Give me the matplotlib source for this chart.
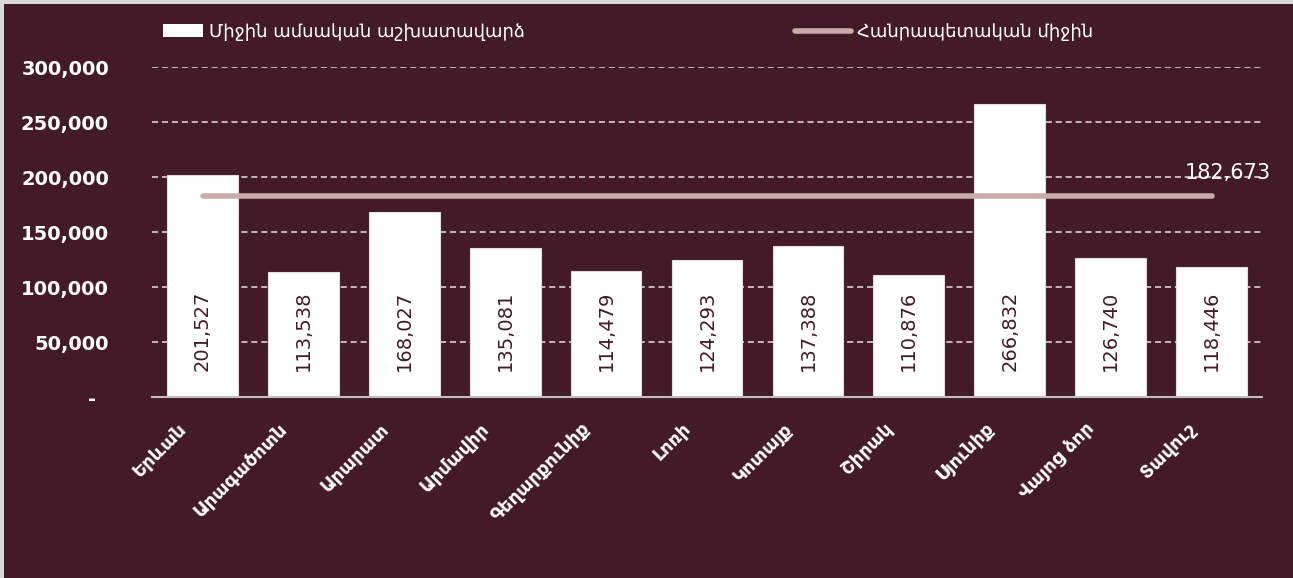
import numpy as np
import matplotlib
matplotlib.use("Agg")
import matplotlib.pyplot as plt
from matplotlib.ticker import FuncFormatter
from matplotlib.patches import Rectangle, Patch
from matplotlib.lines import Line2D
from matplotlib.transforms import ScaledTranslation

regions = ["Երևան", "Արագածոտն", "Արարատ", "Արմավիր", "Գեղարքունիք", "Լոռի",
           "Կոտայք", "Շիրակ", "Սյունիք", "Վայոց ձոր", "Տավուշ"]
wages = [201527, 113538, 168027, 135081, 114479, 124293,
         137388, 110876, 266832, 126740, 118446]
national_avg = 182673
yticks = [0, 50000, 100000, 150000, 200000, 250000, 300000]

bg = "#431a28"
line_col = "#c9aca7"

fig = plt.figure(figsize=(12.93, 5.78), dpi=100)
fig.patch.set_facecolor("#d9d9d9")
# dark panel inside a thin light border
fig.patches.append(Rectangle((0.003, 0.0), 0.997, 0.993, transform=fig.transFigure,
                             facecolor=bg, edgecolor="none", zorder=-10))

ax = fig.add_axes([0.1176, 0.313, 0.8584, 0.571])
ax.set_facecolor(bg)

x = np.arange(len(regions))
ax.bar(x, wages, width=0.7, color="white", edgecolor="#e0dcdc",
       linewidth=0.8, zorder=3)
ax.plot([x[0], x[-1]], [national_avg, national_avg], color=line_col, lw=4,
        solid_capstyle="round", zorder=4)

for xi, v in zip(x, wages):
    ax.text(xi, 24000, f"{v:,}", rotation=90, ha="center", va="bottom",
            color=bg, fontsize=14, zorder=5)

ax.text(x[-1] - 0.27, national_avg + 12000, f"{national_avg:,}", color="white",
        fontsize=15, ha="left", va="bottom", zorder=5)

ax.set_xlim(-0.5, len(regions) - 0.5)
ax.set_ylim(0, 300000)
ax.set_yticks(yticks)
ax.yaxis.set_major_formatter(FuncFormatter(lambda v, p: "-  " if v == 0 else f"{int(v):,}"))
ax.grid(axis="y", color="#e6e1e1", linestyle=(0, (4, 2.5)), linewidth=1.1, zorder=1)
ax.set_axisbelow(True)

for s in ["top", "right", "left"]:
    ax.spines[s].set_visible(False)
ax.spines["bottom"].set_color("#bfbfbf")
ax.spines["bottom"].set_linewidth(1.5)
ax.spines["bottom"].set_zorder(6)

ax.tick_params(axis="y", length=0, pad=31, labelsize=14, labelcolor="white")
ax.tick_params(axis="x", length=0, pad=14, labelsize=13, labelcolor="white")
for lab in ax.get_yticklabels():
    lab.set_fontweight("bold")
ax.set_xticks(x)
ax.set_xticklabels(regions, rotation=45, ha="right", rotation_mode="anchor",
                   fontweight="bold")
shift = ScaledTranslation(-0.25, -0.03, fig.dpi_scale_trans)
for lab in ax.get_xticklabels():
    lab.set_transform(lab.get_transform() + shift)

h1 = Patch(facecolor="white", edgecolor="none")
h2 = Line2D([], [], color=line_col, lw=4, solid_capstyle="round")
fig.legend([h1], ["Միջին ամսական աշխատավարձ"], loc="upper left",
           bbox_to_anchor=(0.126, 0.96), frameon=False, fontsize=13,
           labelcolor="white", handlelength=2.2, handletextpad=0.35,
           borderpad=0, borderaxespad=0)
fig.legend([h2], ["Հանրապետական միջին"], loc="upper left",
           bbox_to_anchor=(0.615, 0.96), frameon=False, fontsize=13,
           labelcolor="white", handlelength=3.1, handletextpad=0.35,
           borderpad=0, borderaxespad=0)

fig.savefig("out.png", dpi=100, facecolor=fig.get_facecolor())
